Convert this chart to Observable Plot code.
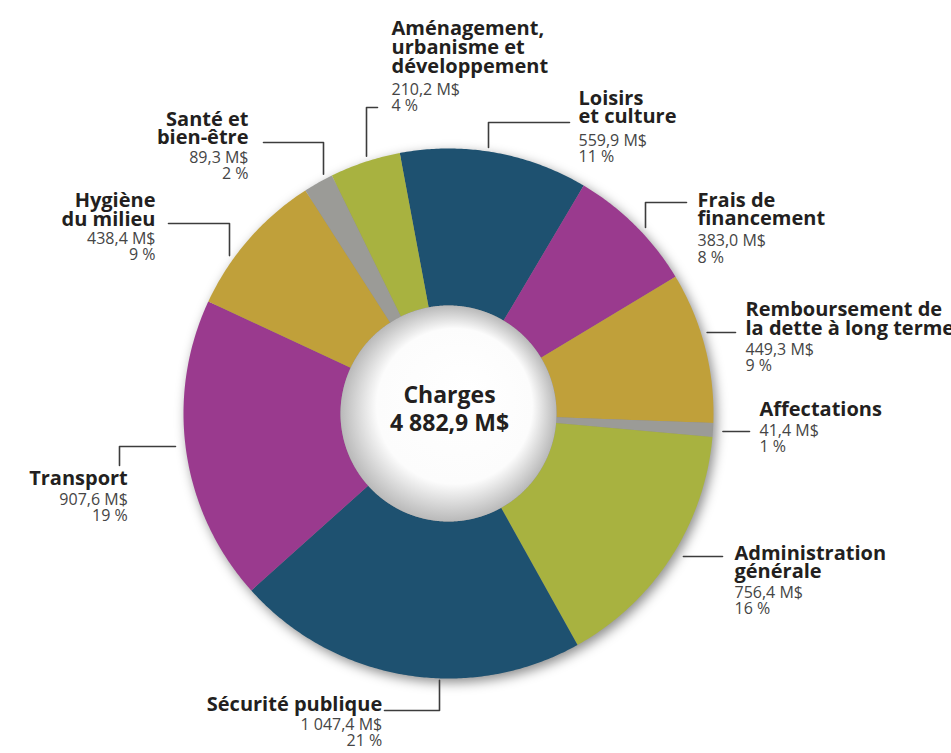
<!DOCTYPE html>
<html><head><meta charset="utf-8">
<script src="https://cdn.jsdelivr.net/npm/d3@7"></script>
<script src="https://cdn.jsdelivr.net/npm/@observablehq/plot@0.6"></script>
<style>html,body{margin:0;padding:0;background:#fff;}</style>
</head><body><div id="chart"></div>
<script>
// ---- data ----
const categories = ["Loisirs et culture", "Frais de financement", "Remboursement de la dette à long terme", "Affectations", "Administration générale", "Sécurité publique", "Transport", "Hygiène du milieu", "Santé et bien-être", "Aménagement, urbanisme et développement"];
const values = [559.9, 383.0, 449.3, 41.4, 756.4, 1047.4, 907.6, 438.4, 89.3, 210.2];
const percents = ["11 %", "8 %", "9 %", "1 %", "16 %", "21 %", "19 %", "9 %", "2 %", "4 %"];
const titles = ["Loisirs\net culture", "Frais de\nfinancement", "Remboursement de\nla dette à long terme", "Affectations", "Administration\ngénérale", "Sécurité publique", "Transport", "Hygiène\ndu milieu", "Santé et\nbien-être", "Aménagement,\nurbanisme et\ndéveloppement"];
const centerTitle = "Charges";

// ---- styles ----
const sliceColors = ["#1e5170", "#9a3a8e", "#c0a03a", "#9b9b97", "#a8b240", "#1e5170", "#9a3a8e", "#c0a03a", "#9b9b97", "#a8b240"];

// ---- layout ----
const W = 951, H = 753, CX = 448, CY = 413, R_OUT = 265, R_IN = 108, START_DEG = -10.6;
const labelLayout = [
  {x: 578, yb: 104, yr: 145, anchor: "start", path: [[569,122],[488,122]], to: "v", r: 269},
  {x: 697, yb: 206, yr: 245.7, anchor: "start", path: [[686,202],[645,202]], to: "v", r: 271},
  {x: 745, yb: 315.7, yr: 354, anchor: "start", path: [[735,332]], to: "h", r: 271},
  {x: 759, yb: 415, yr: 435, anchor: "start", path: [[749,431]], to: "h", r: 275},
  {x: 734, yb: 559, yr: 597.3, anchor: "start", path: [[722,556]], to: "h", r: 275},
  {x: 381.7, yb: 710, yr: 729.3, anchor: "end", path: [[384,710],[439,710]], to: "v", r: 267},
  {x: 127.3, yb: 484, yr: 504, anchor: "end", path: [[119,465],[119,446]], to: "h", r: 275},
  {x: 155, yb: 206.7, yr: 243, anchor: "end", path: [[168,223],[229,223]], to: "v", r: 270},
  {x: 248, yb: 125, yr: 162.3, anchor: "end", path: [[263,142],[323,142]], to: "v", r: 270},
  {x: 391, yb: 34.5, yr: 94.3, anchor: "start", path: [[377,107],[366,107]], to: "v", r: 270}
];
const BOLD_STEP = 18.8, REG_STEP = 16.5;

const fr = d3.formatLocale({decimal: ",", thousands: "\u00a0", grouping: [3], currency: ["", ""]});
const fmt = fr.format(",.1f");

const total = d3.sum(values);
function pt(a, r) { const t = a * Math.PI / 180; return [CX + r * Math.sin(t), CY - r * Math.cos(t)]; }
function ring(a0, a1, rOut, rIn) {
  const n = Math.max(2, Math.ceil((a1 - a0) / 0.5));
  const outer = d3.range(n + 1).map(k => pt(a0 + (a1 - a0) * k / n, rOut));
  const inner = d3.range(n + 1).map(k => pt(a1 - (a1 - a0) * k / n, rIn));
  return [...outer, ...inner, outer[0]];
}
function circle(r) { return d3.range(721).map(k => pt(k * 0.5, r)); }

let acc = 0;
const sliceFeatures = categories.map((c, i) => {
  const a0 = START_DEG + acc / total * 360; acc += values[i];
  const a1 = START_DEG + acc / total * 360;
  return {type: "Feature", properties: {category: c}, geometry: {type: "Polygon", coordinates: [ring(a0, a1, R_OUT, R_IN)]}};
});
const shadowFeature = {type: "Feature", properties: {}, geometry: {type: "Polygon", coordinates: [circle(R_OUT)]}};
const holeFeature = {type: "Feature", properties: {}, geometry: {type: "Polygon", coordinates: [circle(R_IN)]}};

const leaderFeatures = labelLayout.map((L, i) => {
  const last = L.path[L.path.length - 1];
  let end;
  if (L.to === "v") { const dx = last[0] - CX; const dy = Math.sqrt(L.r * L.r - dx * dx); end = [last[0], last[1] < CY ? CY - dy : CY + dy]; }
  else { const dy = last[1] - CY; const dx = Math.sqrt(L.r * L.r - dy * dy); end = [last[0] < CX ? CX - dx : CX + dx, last[1]]; }
  return {type: "Feature", properties: {category: categories[i]}, geometry: {type: "LineString", coordinates: [...L.path, end]}};
});

const boldRows = [], regRows = [];
categories.forEach((c, i) => {
  const L = labelLayout[i];
  titles[i].split("\n").forEach((t, k) => boldRows.push({x: L.x, y: L.yb + k * BOLD_STEP, text: t, anchor: L.anchor}));
  [fmt(values[i]) + "\u00a0M$", percents[i]].forEach((t, k) => regRows.push({x: L.x, y: L.yr + k * REG_STEP, text: t, anchor: L.anchor}));
});
const centerRows = [{x: CX + 1, y: 402, text: centerTitle}, {x: CX + 1, y: 430.5, text: fmt(total) + "\u00a0M$"}];

const FONT = "'Open Sans', 'DejaVu Sans', sans-serif";
const boldOpts = {x: "x", y: "y", text: "text", lineAnchor: "bottom", fontSize: 20, fontWeight: "bold", fill: "#231f20", fontFamily: FONT};
const regOpts = {x: "x", y: "y", text: "text", lineAnchor: "bottom", fontSize: 16, fill: "#454545", fontFamily: FONT};

const plot = Plot.plot({
  width: W, height: H, margin: 0,
  projection: {type: "identity", domain: {type: "MultiPoint", coordinates: [[0, 0], [W, H]]}},
  color: {domain: categories, range: sliceColors},
  style: {background: "#fff", fontFamily: FONT},
  marks: [
    Plot.geo([shadowFeature], {fill: "#000", fillOpacity: 0.45, dx: 3, dy: 4}),
    Plot.geo(sliceFeatures, {fill: d => d.properties.category, stroke: "none"}),
    Plot.geo([holeFeature], {fill: "#fff"}),
    Plot.geo(leaderFeatures, {stroke: "#3c3c3c", strokeWidth: 1.6, fill: "none"}),
    Plot.text(boldRows.filter(d => d.anchor === "start"), {...boldOpts, textAnchor: "start"}),
    Plot.text(boldRows.filter(d => d.anchor === "end"), {...boldOpts, textAnchor: "end"}),
    Plot.text(regRows.filter(d => d.anchor === "start"), {...regOpts, textAnchor: "start"}),
    Plot.text(regRows.filter(d => d.anchor === "end"), {...regOpts, textAnchor: "end"}),
    Plot.text(centerRows, {x: "x", y: "y", text: "text", lineAnchor: "bottom", textAnchor: "middle", fontSize: 23, fontWeight: "bold", fill: "#231f20", fontFamily: FONT})
  ]
});

const svg = d3.select(plot);
const defs = svg.insert("defs", ":first-child");
defs.append("filter").attr("id", "ringShadow").attr("x", "-20%").attr("y", "-20%").attr("width", "140%").attr("height", "140%")
  .append("feGaussianBlur").attr("stdDeviation", 6);
const rg = defs.append("radialGradient").attr("id", "holeGrad").attr("cx", "50%").attr("cy", "50%").attr("r", "50%").attr("fx", "60%").attr("fy", "38%");
rg.append("stop").attr("offset", "0%").attr("stop-color", "#ffffff");
rg.append("stop").attr("offset", "72%").attr("stop-color", "#fcfcfc");
rg.append("stop").attr("offset", "100%").attr("stop-color", "#b9b9b9");
const geos = svg.selectAll('g[aria-label="geo"]').nodes();
if (geos[0]) d3.select(geos[0]).attr("filter", "url(#ringShadow)");
if (geos[2]) d3.select(geos[2]).selectAll("path").attr("fill", "url(#holeGrad)");
document.getElementById("chart").appendChild(plot);
</script>
</body></html>
